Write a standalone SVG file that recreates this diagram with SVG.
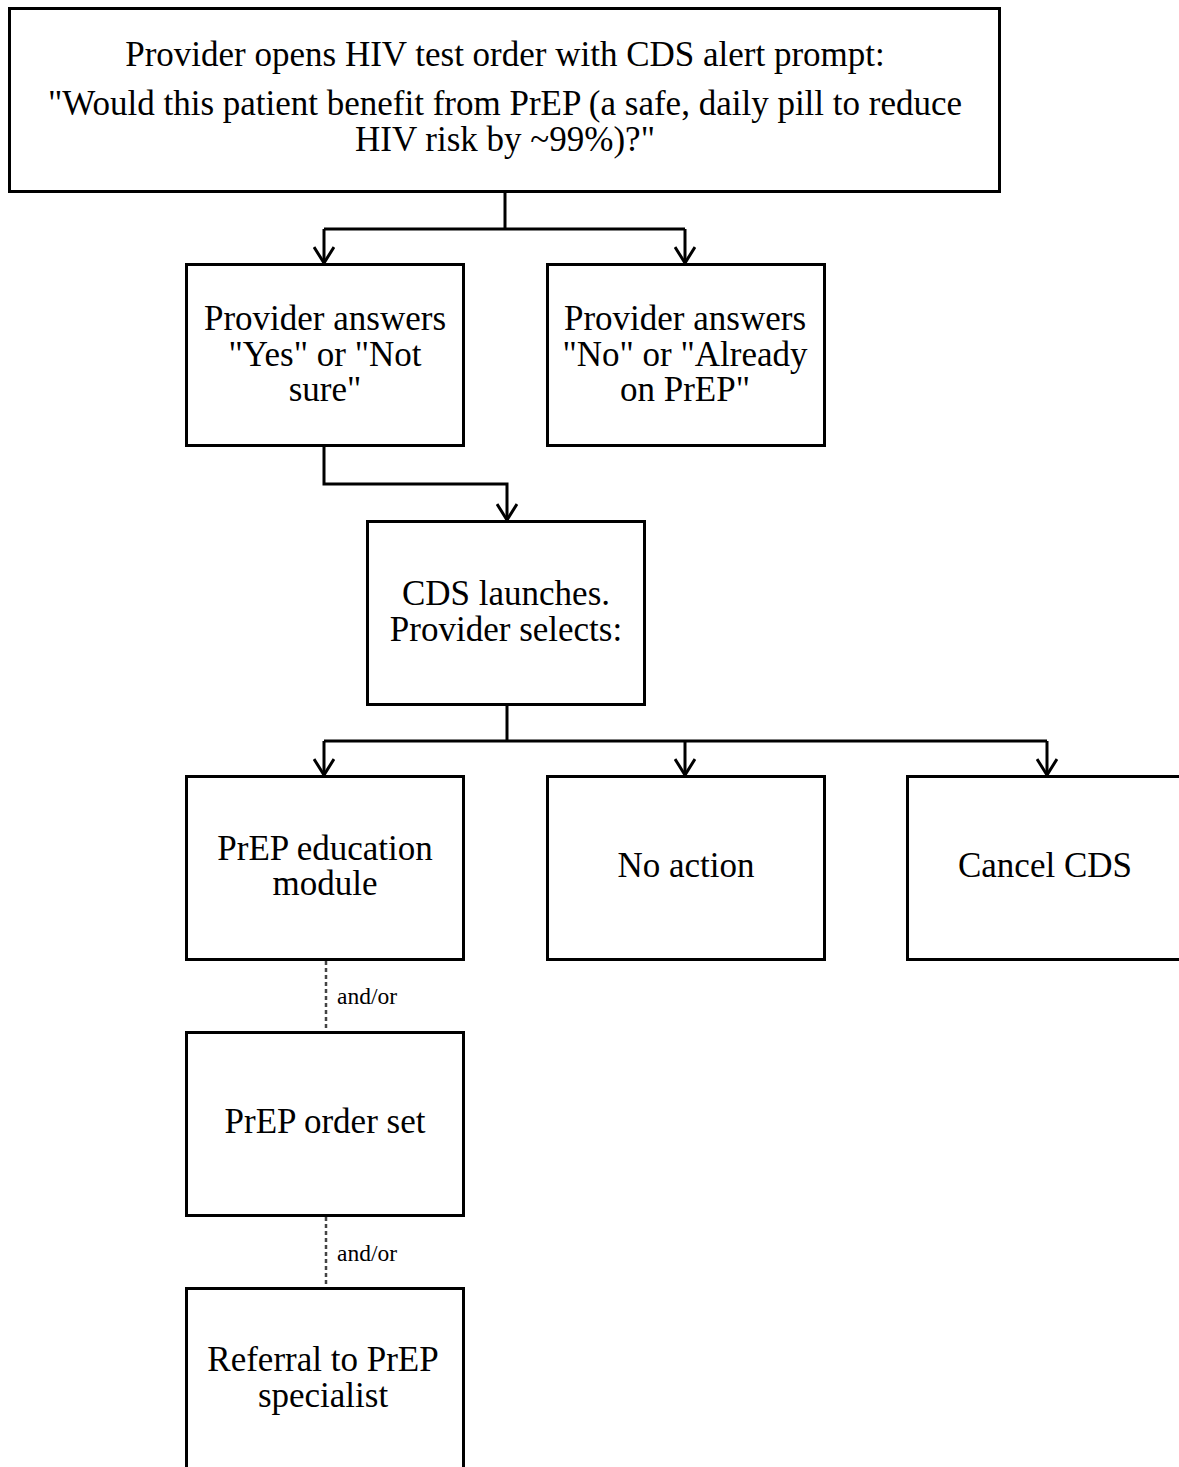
<svg xmlns="http://www.w3.org/2000/svg" width="1179" height="1467" viewBox="0 0 1179 1467">
<defs>
<style>
.box{fill:#fff;stroke:#000;stroke-width:3}
.t{font-family:"Liberation Serif","Times New Roman",serif;font-size:35px;fill:#000;text-anchor:middle}
.s{font-family:"Liberation Serif","Times New Roman",serif;font-size:23.5px;fill:#000}
.c{fill:none;stroke:#000;stroke-width:3}
.d{fill:none;stroke:#444;stroke-width:2.5;stroke-dasharray:4,3}
</style>
<marker id="ah" viewBox="0 0 18 22" refX="17" refY="11" markerWidth="18" markerHeight="22" markerUnits="userSpaceOnUse" orient="auto">
<path d="M1,1 L17,11 L1,21" fill="none" stroke="#000" stroke-width="3"/>
</marker>
</defs>
<rect width="1179" height="1467" fill="#fff"/>
<g id="connectors">
<path class="c" d="M505,192 V229"/>
<path class="c" d="M324,229 H685"/>
<path class="c" d="M324,229 V263" marker-end="url(#ah)"/>
<path class="c" d="M685,229 V263" marker-end="url(#ah)"/>
<path class="c" d="M324,446 V484 H507 V520" marker-end="url(#ah)"/>
<path class="c" d="M507,705 V741"/>
<path class="c" d="M324,741 H1047"/>
<path class="c" d="M324,741 V775" marker-end="url(#ah)"/>
<path class="c" d="M685,741 V775" marker-end="url(#ah)"/>
<path class="c" d="M1047,741 V775" marker-end="url(#ah)"/>
<path class="d" d="M326,961 V1031"/>
<path class="d" d="M326,1217 V1287"/>
<text class="s" x="337" y="1004">and/or</text>
<text class="s" x="337" y="1261">and/or</text>
</g>
<g id="n-top">
<rect class="box" x="9.5" y="8.5" width="990" height="183"/>
<text class="t" x="505" y="66">Provider opens HIV test order with CDS alert prompt:</text>
<text class="t" x="505" y="115">"Would this patient benefit from PrEP (a safe, daily pill to reduce</text>
<text class="t" x="505" y="151">HIV risk by ~99%)?"</text>
</g>
<g id="n-yes">
<rect class="box" x="186.5" y="264.5" width="277" height="181"/>
<text class="t" x="325" y="330">Provider answers</text>
<text class="t" x="325" y="366">"Yes" or "Not</text>
<text class="t" x="325" y="401">sure"</text>
</g>
<g id="n-no">
<rect class="box" x="547.5" y="264.5" width="277" height="181"/>
<text class="t" x="685" y="330">Provider answers</text>
<text class="t" x="685" y="366">"No" or "Already</text>
<text class="t" x="685" y="401">on PrEP"</text>
</g>
<g id="n-cds">
<rect class="box" x="367.5" y="521.5" width="277" height="183"/>
<text class="t" x="506" y="605">CDS launches.</text>
<text class="t" x="506" y="641">Provider selects:</text>
</g>
<g id="n-edu">
<rect class="box" x="186.5" y="776.5" width="277" height="183"/>
<text class="t" x="325" y="860">PrEP education</text>
<text class="t" x="325" y="895">module</text>
</g>
<g id="n-noaction">
<rect class="box" x="547.5" y="776.5" width="277" height="183"/>
<text class="t" x="686" y="877">No action</text>
</g>
<g id="n-cancel">
<rect class="box" x="907.5" y="776.5" width="290" height="183"/>
<text class="t" x="1045" y="877">Cancel CDS</text>
</g>
<g id="n-order">
<rect class="box" x="186.5" y="1032.5" width="277" height="183"/>
<text class="t" x="325" y="1133">PrEP order set</text>
</g>
<g id="n-referral">
<rect class="box" x="186.5" y="1288.5" width="277" height="200"/>
<text class="t" x="323" y="1371">Referral to PrEP</text>
<text class="t" x="323" y="1407">specialist</text>
</g>
</svg>
